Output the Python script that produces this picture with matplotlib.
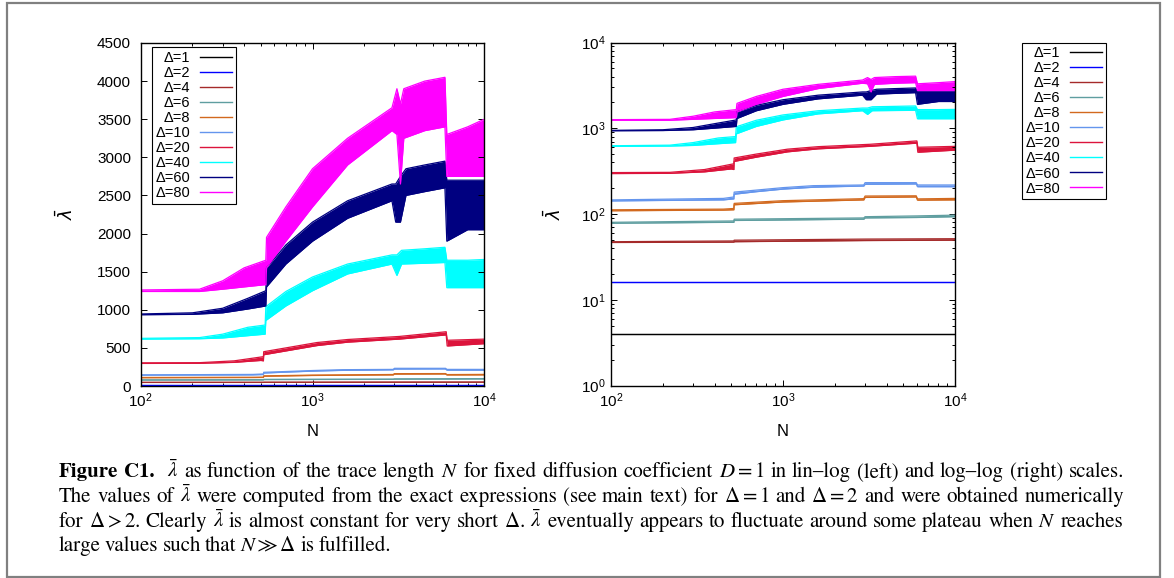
import matplotlib
matplotlib.use("Agg")
import matplotlib.pyplot as plt
from matplotlib.lines import Line2D
from matplotlib.patches import Rectangle
from matplotlib.ticker import LogLocator, NullFormatter, NullLocator

# ---------------- data ----------------
labels = ["Δ=1", "Δ=2", "Δ=4", "Δ=6", "Δ=8", "Δ=10", "Δ=20", "Δ=40", "Δ=60", "Δ=80"]
colors = ["#000000", "#0000ff", "#a52a2a", "#5f9ea0", "#d2691e",
          "#6495ed", "#dc143c", "#00ffff", "#000080", "#ff00ff"]

# each series: trace length N, lower and upper edge of the fluctuating band
n_d1 = [100, 10000]
lo_d1 = [4.0, 4.0]
hi_d1 = [4.0, 4.0]

n_d2 = [100, 10000]
lo_d2 = [16.0, 16.0]
hi_d2 = [16.0, 16.0]

n_d4 = [100, 518, 520, 3000, 10000]
lo_d4 = [46.5, 47.0, 47.5, 49.0, 49.5]
hi_d4 = [47.5, 48.5, 49.5, 51.0, 51.5]

n_d6 = [100, 518, 520, 2950, 3000, 6000, 10000]
lo_d6 = [78, 80, 84, 87, 90, 91, 93]
hi_d6 = [80, 83, 87, 90, 93, 95, 97]

n_d8 = [100, 450, 518, 520, 1000, 2950, 3000, 5950, 6050, 10000]
lo_d8 = [109, 111, 112, 128, 138, 146, 156, 158, 145, 146]
hi_d8 = [112, 114, 116, 133, 143, 151, 162, 163, 150, 152]

n_d10 = [100, 450, 518, 520, 700, 1000, 1500, 2950, 3000, 5950, 6050, 10000]
lo_d10 = [142, 146, 150, 170, 182, 195, 205, 212, 222, 224, 208, 208]
hi_d10 = [146, 152, 158, 180, 190, 203, 214, 218, 232, 232, 218, 218]

n_d20 = [100, 220, 350, 500, 518, 520, 700, 1060, 1600, 3200, 6000, 6080, 10000]
lo_d20 = [296, 298, 310, 335, 330, 410, 460, 530, 575, 615, 670, 525, 555]
hi_d20 = [304, 306, 330, 380, 385, 450, 500, 570, 610, 650, 712, 600, 615]

n_d40 = [100, 220, 300, 420, 530, 535, 700, 1000, 1600, 2900, 3100, 3300, 4500, 5900, 6050, 8000, 10000]
lo_d40 = [615, 620, 630, 660, 680, 860, 1050, 1250, 1470, 1600, 1450, 1600, 1610, 1620, 1290, 1290, 1290]
hi_d40 = [625, 635, 680, 770, 800, 1040, 1240, 1430, 1600, 1720, 1720, 1780, 1800, 1820, 1650, 1650, 1660]

n_d60 = [100, 200, 300, 420, 535, 540, 700, 1000, 1600, 2900, 3050, 3250, 3500, 4500, 5900, 6050, 8000, 10000]
lo_d60 = [935, 940, 960, 1010, 1050, 1300, 1600, 1900, 2200, 2430, 2150, 2150, 2500, 2550, 2600, 1900, 2050, 2050]
hi_d60 = [945, 960, 1020, 1150, 1250, 1550, 1850, 2150, 2430, 2650, 2650, 2750, 2850, 2900, 2950, 2700, 2700, 2700]

n_d80 = [100, 220, 300, 400, 535, 540, 700, 1000, 1600, 2900, 3100, 3250, 3400, 4500, 5900, 6050, 8000, 10000]
lo_d80 = [1240, 1240, 1270, 1300, 1330, 1550, 1900, 2350, 2900, 3350, 3300, 2650, 3250, 3350, 3400, 2750, 2750, 2750]
hi_d80 = [1260, 1270, 1380, 1550, 1650, 1950, 2350, 2850, 3250, 3650, 3900, 3700, 3900, 4000, 4050, 3300, 3400, 3500]

series_n = [n_d1, n_d2, n_d4, n_d6, n_d8, n_d10, n_d20, n_d40, n_d60, n_d80]
series_lo = [lo_d1, lo_d2, lo_d4, lo_d6, lo_d8, lo_d10, lo_d20, lo_d40, lo_d60, lo_d80]
series_hi = [hi_d1, hi_d2, hi_d4, hi_d6, hi_d8, hi_d10, hi_d20, hi_d40, hi_d60, hi_d80]

left_yticks = [0, 500, 1000, 1500, 2000, 2500, 3000, 3500, 4000, 4500]

caption_bold = "Figure C1."
caption_lines = [
    r"$\bar{\lambda}$ as function of the trace length $N$ for fixed diffusion coefficient $D = 1$ in lin–log (left) and log–log (right) scales.",
    r"The values of $\bar{\lambda}$ were computed from the exact expressions (see main text) for $\Delta = 1$ and $\Delta = 2$ and were obtained numerically",
    r"for $\Delta > 2$. Clearly $\bar{\lambda}$ is almost constant for very short $\Delta$. $\bar{\lambda}$ eventually appears to fluctuate around some plateau when $N$ reaches",
    r"large values such that $N \gg \Delta$ is fulfilled.",
]

# ---------------- figure ----------------
W, H, DPI = 1174, 578, 100
plt.rcParams["font.family"] = ["Liberation Sans", "DejaVu Sans"]
plt.rcParams["mathtext.fontset"] = "stix"

fig = plt.figure(figsize=(W / DPI, H / DPI), dpi=DPI)
fig.patch.set_facecolor("white")

def px_rect(x0, y0, x1, y1):
    return [x0 / W, 1 - y1 / H, (x1 - x0) / W, (y1 - y0) / H]

axL = fig.add_axes(px_rect(140.7, 43, 484.3, 386))
axR = fig.add_axes(px_rect(611, 42.5, 955, 385.5))

def draw(ax):
    for n, lo, hi, c in zip(series_n, series_lo, series_hi, colors):
        ax.fill_between(n, lo, hi, color=c, lw=0.0)
        ax.plot(n, lo, color=c, lw=0.9)
        ax.plot(n, hi, color=c, lw=0.9)

for ax in (axL, axR):
    draw(ax)
    ax.set_xscale("log")
    ax.set_xlim(100, 10000)
    ax.xaxis.set_major_locator(LogLocator(base=10, numticks=10))
    ax.xaxis.set_minor_locator(LogLocator(base=10, subs=range(2, 10), numticks=10))
    ax.xaxis.set_minor_formatter(NullFormatter())
    ax.tick_params(which="both", direction="in", top=True, right=True, width=0.7,
                   labelsize=11, colors="black")
    ax.tick_params(which="major", length=4.5)
    ax.tick_params(which="minor", length=2.5)
    ax.tick_params(axis="x", pad=4)
    for s in ax.spines.values():
        s.set_linewidth(1.0)
    ax.set_xlabel("N", fontsize=12)
    ax.xaxis.set_label_coords(0.5, -0.112)

axL.set_ylim(0, 4500)
axL.set_yticks(left_yticks)
axL.yaxis.set_minor_locator(NullLocator())
axL.tick_params(axis="y", pad=7)
axL.set_ylabel(r"$\bar{\lambda}$", fontsize=13, math_fontfamily="dejavusans")
axL.yaxis.set_label_coords(-0.185, 0.5)

axR.set_yscale("log")
axR.set_ylim(1, 10000)
axR.yaxis.set_major_locator(LogLocator(base=10, numticks=10))
axR.yaxis.set_minor_locator(LogLocator(base=10, subs=range(2, 10), numticks=10))
axR.yaxis.set_minor_formatter(NullFormatter())
axR.tick_params(axis="y", pad=4)
axR.set_ylabel(r"$\bar{\lambda}$", fontsize=13, math_fontfamily="dejavusans")
axR.yaxis.set_label_coords(-0.134, 0.5)

handles = [Line2D([], [], color=c, lw=1.0) for c in colors]
leg_kw = dict(fontsize=10.5, markerfirst=False, fancybox=False, framealpha=1,
              edgecolor="black", borderpad=0.25, labelspacing=0.07,
              handlelength=2.2, handletextpad=0.7, borderaxespad=0, loc="upper left")
legL = axL.legend(handles, labels, bbox_to_anchor=(151.7 / W, 1 - 47.3 / H),
                  bbox_transform=fig.transFigure, **leg_kw)
legR = axR.legend(handles, labels, bbox_to_anchor=(1021.7 / W, 1 - 42.7 / H),
                  bbox_transform=fig.transFigure, **leg_kw)
for leg in (legL, legR):
    leg.get_frame().set_linewidth(0.8)

# ---------------- caption (justified word by word) ----------------
def split_words(s):
    words, cur, inmath = [], "", False
    for ch in s:
        if ch == "$":
            inmath = not inmath
        if ch == " " and not inmath:
            if cur:
                words.append(cur)
                cur = ""
        else:
            cur += ch
    if cur:
        words.append(cur)
    return words

renderer = fig.canvas.get_renderer()
cap_kw = dict(fontsize=15, family="STIXGeneral", ha="left", va="baseline",
              math_fontfamily="stix")
x_left, x_right = 59.0, 1124.0
baselines = [477, 502, 527, 551]

for i, (line, yb) in enumerate(zip(caption_lines, baselines)):
    items = []  # (text, bold, gap weight before)
    if i == 0:
        items.append((caption_bold.split()[0], True, 0))
        items.append((caption_bold.split()[1], True, 1))
        first_gap = 2.2
    else:
        first_gap = 1
    for j, w in enumerate(split_words(line)):
        weight = 0 if (i > 0 and j == 0) else (first_gap if (i == 0 and j == 0) else 1)
        items.append((w, False, weight))
    arts = []
    for txt, bold, wgt in items:
        t = fig.text(0, 1 - yb / H, txt, fontweight="bold" if bold else "normal", **cap_kw)
        arts.append((t, t.get_window_extent(renderer).width, wgt))
    total = sum(a[1] for a in arts)
    wsum = sum(a[2] for a in arts)
    if i < len(caption_lines) - 1:
        gap = (x_right - x_left - total) / wsum
    else:
        gap = 4.0
    x = x_left
    for t, wdt, wgt in arts:
        x += wgt * gap
        t.set_x(x / W)
        x += wdt

# outer frame
fig.patches.append(Rectangle((6.7 / W, 1 - 576.7 / H), (1160 - 6.7) / W, (576.7 - 2.7) / H,
                             transform=fig.transFigure, fill=False,
                             edgecolor="#808080", lw=1.6))

fig.savefig("out.png", dpi=DPI)
